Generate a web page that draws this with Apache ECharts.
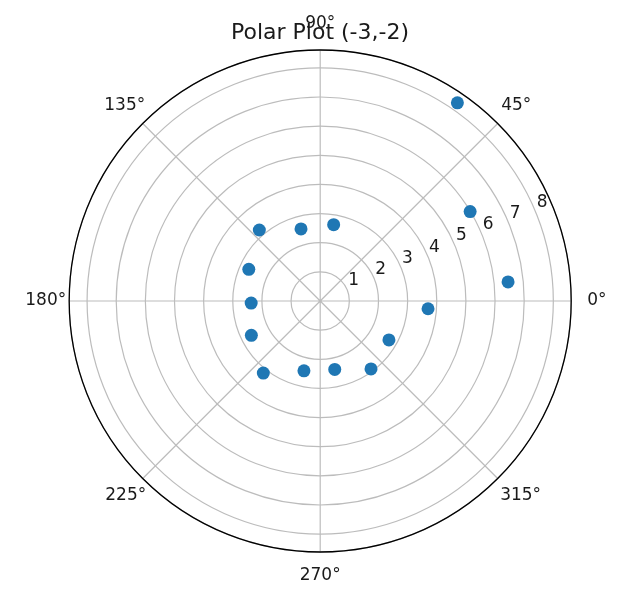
<!DOCTYPE html>
<html>
<head>
<meta charset="utf-8">
<script src="https://cdn.jsdelivr.net/npm/echarts@6/dist/echarts.min.js"></script>
<style>
html,body{margin:0;padding:0;background:#fff;}
#chart{width:640px;height:603px;}
</style>
</head>
<body>
<div id="chart"></div>
<script>
// Data (radius, angle in degrees)
var rValues = [8.27, 5.99, 6.48, 3.71, 2.71, 2.91, 2.40, 2.46, 3.15, 2.64, 2.37, 2.68, 3.21, 2.56, 2.66];
var thetaValues = [55.3, 30.8, 5.8, 355.9, 330.5, 306.8, 282.0, 256.9, 231.7, 206.5, 181.7, 156.1, 130.6, 104.9, 80.0];
var angleTicks = [0, 45, 90, 135, 180, 225, 270, 315];
var radiusLabels = ['1', '2', '3', '4', '5', '6', '7', '8'];
var titleText = 'Polar Plot (-3,-2)';

var FONT = 'DejaVu Sans';
var TXT = '#1a1a1a';
var GRID = '#bcbcbc';
var CX = 320.2, CY = 301, R = 251, UNIT = 29.14;

var pads = {
  0: [0, 0, 0, 21], 45: [0, 0, 13, 7], 90: [0, 0, 23, 0], 135: [0, 1, 13, 0],
  180: [0, 8, 0, 0], 225: [12, 0, 0, 0], 270: [20, 0, 0, 0], 315: [12, 0, 0, 6]
};
var rich = {};
angleTicks.forEach(function (a) {
  rich['a' + a] = { fontSize: 17, fontFamily: FONT, color: TXT, padding: pads[a] };
});

var scatterData = rValues.map(function (r, i) { return [r, thetaValues[i]]; });

var chart = echarts.init(document.getElementById('chart'));
chart.setOption({
  animation: false,
  backgroundColor: '#fff',
  title: {
    text: titleText, left: 'center', top: 17,
    textStyle: { fontFamily: FONT, fontSize: 22, fontWeight: 'normal', color: TXT }
  },
  polar: [
    { center: [CX, CY], radius: R },
    { center: [CX, CY], radius: UNIT * 9 }
  ],
  angleAxis: [
    {
      polarIndex: 0, type: 'value', min: 0, max: 360, interval: 45,
      startAngle: 0, clockwise: false,
      axisLine: { show: true, lineStyle: { color: '#000', width: 1.3 } },
      axisTick: { show: false },
      splitLine: { show: true, lineStyle: { color: GRID, width: 1.2 } },
      axisLabel: {
        margin: -5, fontSize: 17, fontFamily: FONT, color: TXT, rich: rich,
        formatter: function (v) {
          if (angleTicks.indexOf(v) < 0) return '';
          return '{a' + v + '|' + v + '°}';
        }
      }
    },
    {
      polarIndex: 1, type: 'value', min: 0, max: 360, startAngle: 22.5, clockwise: false,
      show: false
    }
  ],
  radiusAxis: [
    {
      polarIndex: 0, type: 'value', min: 0, max: R / UNIT, interval: 1,
      axisLine: { show: false }, axisTick: { show: false }, axisLabel: { show: false },
      splitLine: { show: true, lineStyle: { color: GRID, width: 1.2 } }
    },
    {
      polarIndex: 1, type: 'category', boundaryGap: true,
      data: [''].concat(radiusLabels),
      axisLine: { show: false }, axisTick: { show: false },
      splitLine: { show: false }, splitArea: { show: false },
      axisLabel: { show: true, interval: 0, margin: 4, fontSize: 17, fontFamily: FONT, color: TXT }
    }
  ],
  series: [{
    type: 'scatter', coordinateSystem: 'polar', polarIndex: 0,
    data: scatterData, symbol: 'circle', symbolSize: 13,
    itemStyle: { color: '#1f77b4', opacity: 1 },
    z: 5
  }]
});
</script>
</body>
</html>
